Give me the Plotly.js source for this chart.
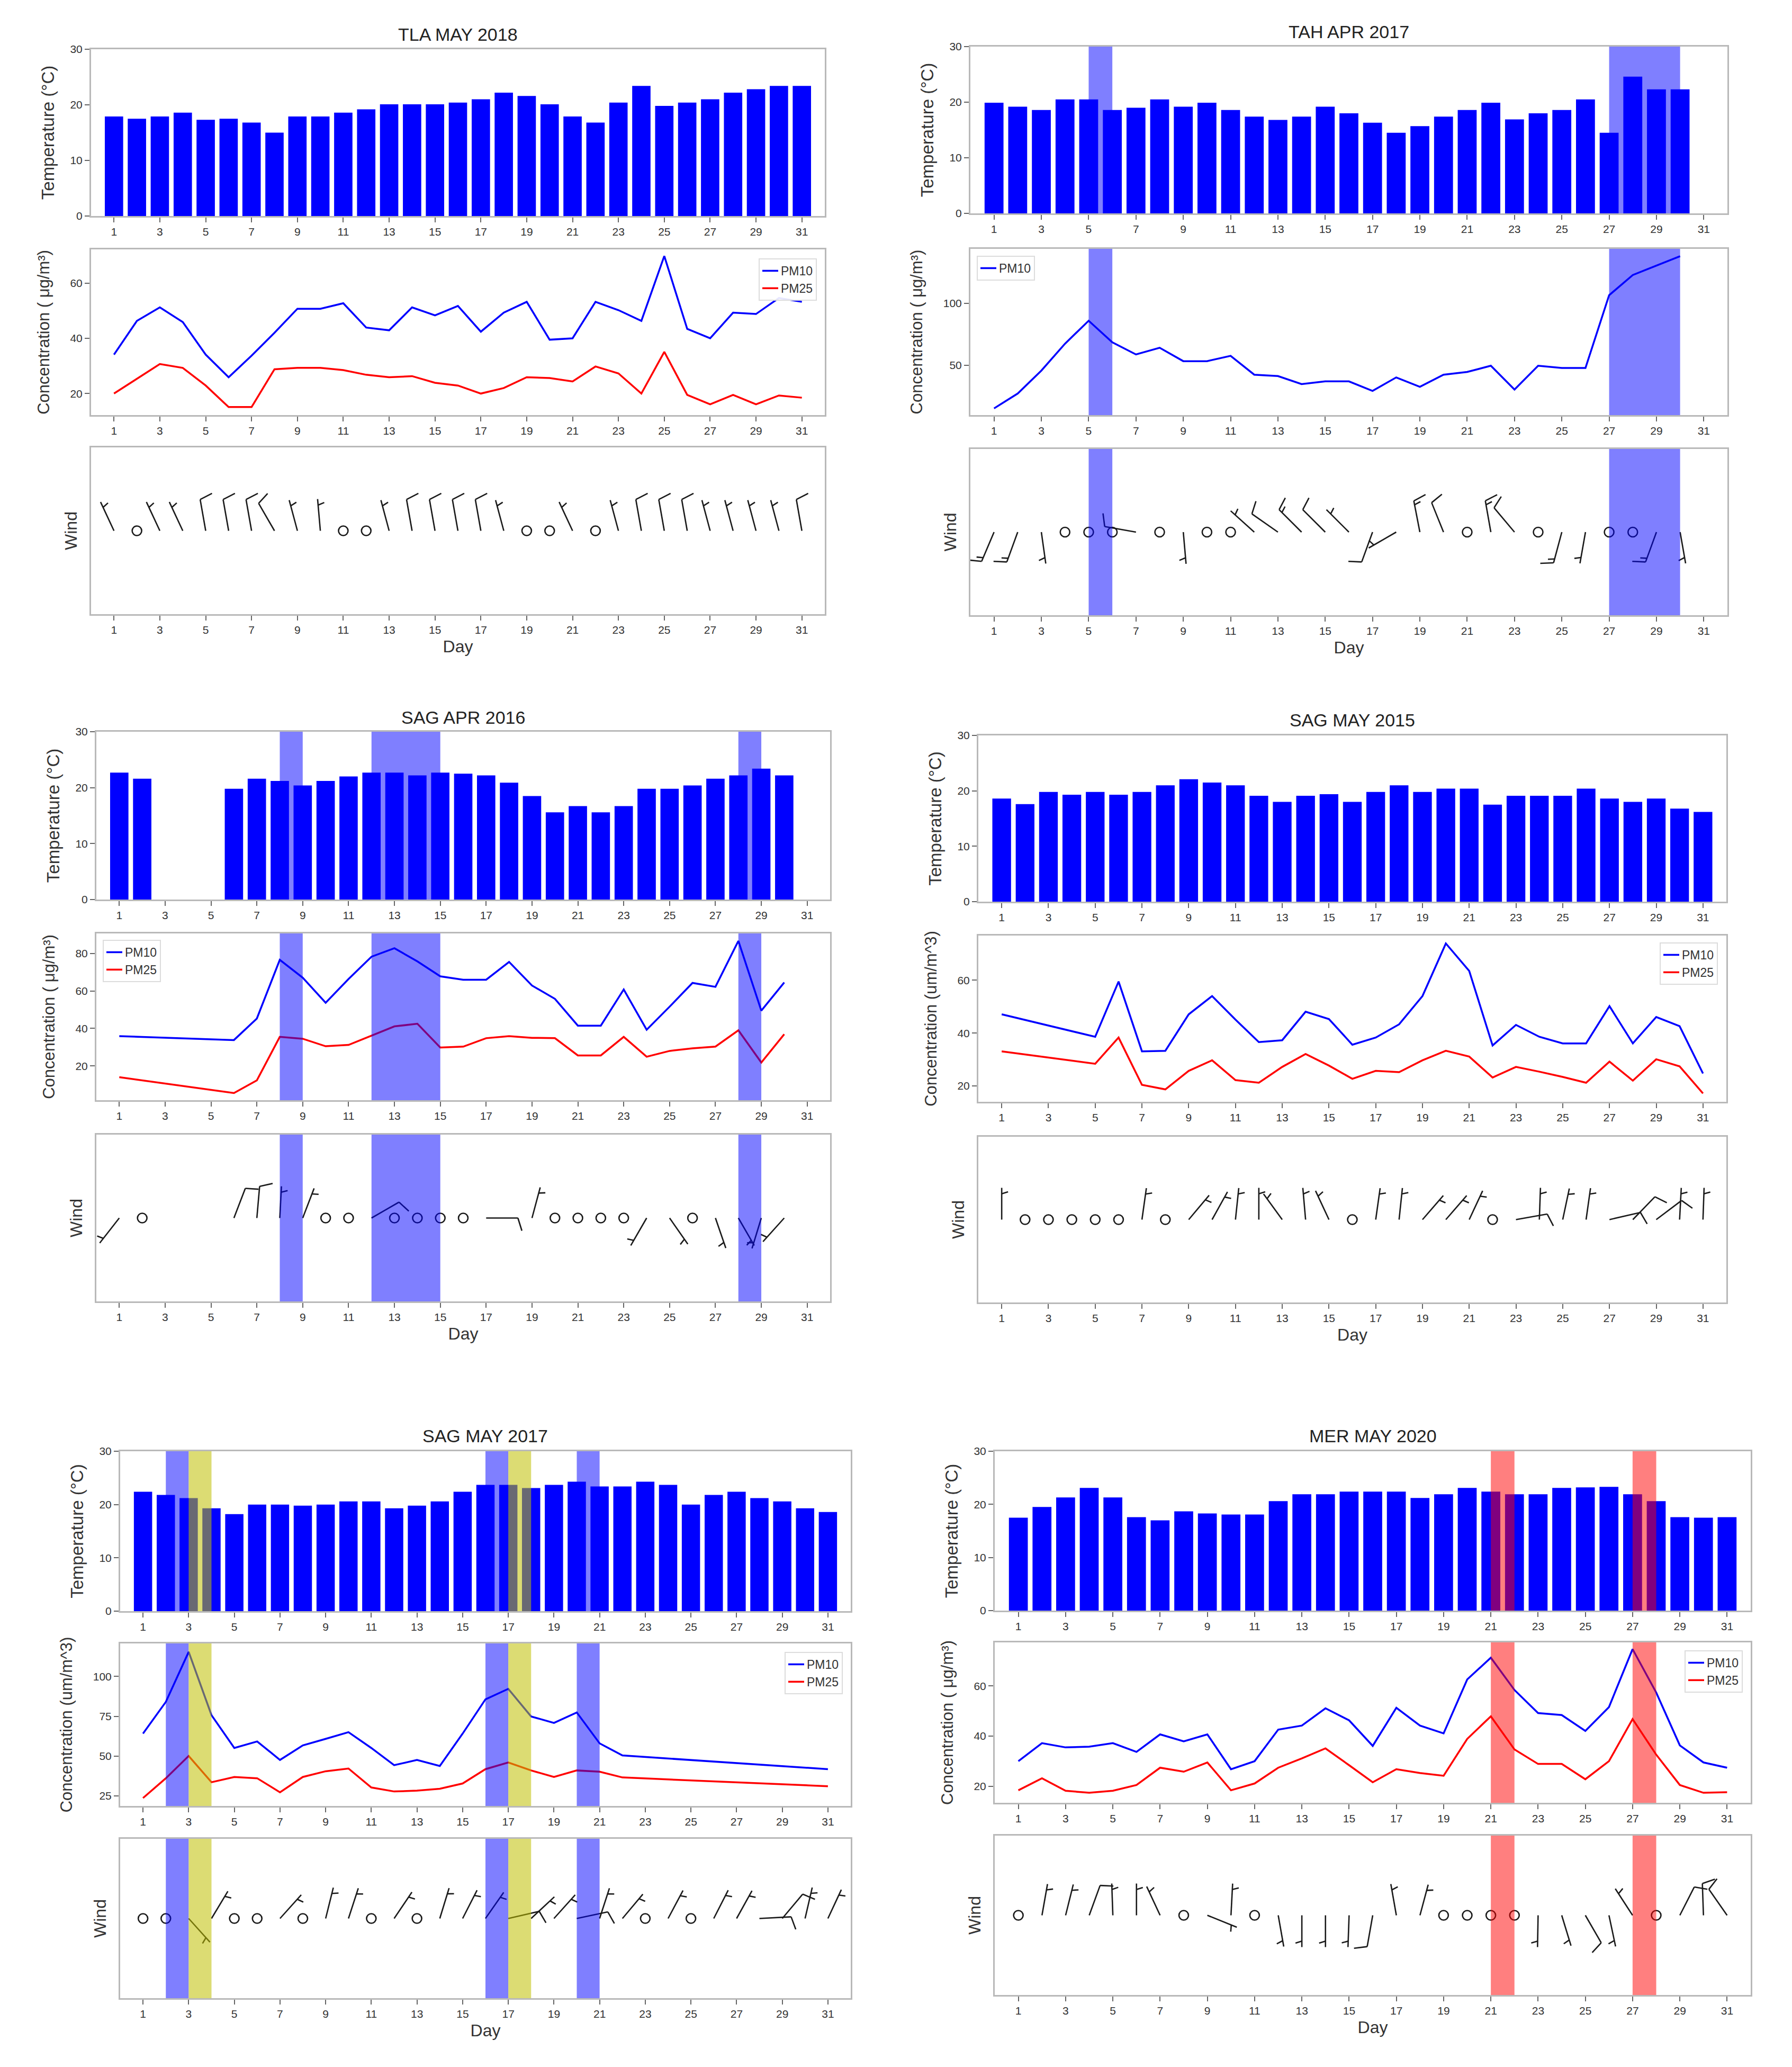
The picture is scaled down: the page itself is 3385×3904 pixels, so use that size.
<!DOCTYPE html>
<html><head><meta charset="utf-8">
<script src="https://cdn.plot.ly/plotly-3.0.1.min.js"></script>
<style>html,body{margin:0;padding:0;background:#fff}#chart{width:3385px;height:3904px}</style>
</head><body><div id="chart"></div>
<script>
// ---------------- DATA ----------------
const days31 = [1,2,3,4,5,6,7,8,9,10,11,12,13,14,15,16,17,18,19,20,21,22,23,24,25,26,27,28,29,30,31];
const days30 = [1,2,3,4,5,6,7,8,9,10,11,12,13,14,15,16,17,18,19,20,21,22,23,24,25,26,27,28,29,30];
const dayTicks = [1,3,5,7,9,11,13,15,17,19,21,23,25,27,29,31];
const tempTicks = [0,10,20,30];

// TLA MAY 2018
const tla2018_temp = [17.9,17.5,17.9,18.6,17.3,17.5,16.8,15.0,17.9,17.9,18.6,19.2,20.1,20.1,20.1,20.4,21.0,22.2,21.6,20.1,17.9,16.8,20.4,23.4,19.8,20.4,21.0,22.2,22.8,23.4,23.4];
const tla2018_pm10 = [34.1,46.3,51.2,45.9,34.1,25.9,33.7,42.0,50.7,50.7,52.7,43.9,42.9,51.2,48.3,51.7,42.4,49.3,53.2,39.5,40.0,53.2,50.2,46.3,69.8,43.4,40.0,49.3,48.8,54.6,53.2];
const tla2018_pm25 = [20.0,25.4,30.7,29.3,22.9,15.1,15.1,28.8,29.3,29.3,28.5,26.8,25.9,26.3,23.9,22.9,20.0,22.0,25.9,25.6,24.4,29.8,27.3,20.0,35.1,19.5,16.1,19.5,16.1,19.3,18.5];
const tla2018_wdir = [335,0,335,335,350,350,350,330,345,355,0,0,345,350,350,350,350,345,0,0,335,0,345,350,350,350,345,345,345,345,350];
const tla2018_wspd = [5,0,5,5,10,10,10,10,5,5,0,0,5,10,10,10,10,5,0,0,5,0,5,10,10,10,5,5,5,5,10];
const tla2018_concTicks = [20,40,60];

// TAH APR 2017
const tah2017_temp = [19.9,19.2,18.6,20.5,20.5,18.6,19.0,20.5,19.2,19.9,18.6,17.4,16.8,17.4,19.2,18.0,16.3,14.5,15.7,17.4,18.6,19.9,16.9,18.0,18.6,20.5,14.5,24.6,22.3,22.3];
const tah2017_pm10 = [15.2,27.2,45.7,67.4,85.9,68.5,58.7,64.1,53.3,53.3,57.6,42.4,41.3,34.8,37.0,37.0,29.3,40.2,32.6,42.4,44.6,49.6,30.4,49.6,47.8,47.8,106.5,122.8,130.4,138.0];
const tah2017_wdir = [203,200,172,0,0,0,280,0,175,0,0,312,305,315,315,315,200,240,349,338,0,350,320,0,195,190,0,0,200,170];
const tah2017_wspd = [15,15,5,0,0,0,10,0,5,0,0,5,10,15,10,5,10,5,15,10,0,15,10,0,15,5,0,0,15,5];
const tah2017_bandStart = [5,27];
const tah2017_bandEnd = [6,30];
const tah2017_bandColor = ['b','b'];
const tah2017_concTicks = [50,100];

// SAG APR 2016
const sag2016_temp = [22.7,21.6,null,null,null,19.8,21.6,21.2,20.4,21.2,22.0,22.7,22.7,22.2,22.7,22.5,22.2,20.9,18.5,15.6,16.7,15.6,16.7,19.8,19.8,20.4,21.6,22.2,23.4,22.2];
const sag2016_pm10 = [35.9,null,null,null,null,33.8,45.3,76.6,67.1,53.7,66.4,78.3,82.8,75.8,67.8,66.0,66.0,75.5,62.9,55.8,41.5,41.5,60.8,39.3,51.6,64.3,62.2,86.7,49.5,64.5];
const sag2016_pm25 = [14.0,null,null,null,null,5.5,12.3,35.5,34.5,30.5,31.2,36.2,41.1,42.5,29.8,30.3,34.8,35.9,35.0,34.8,25.6,25.6,35.5,24.9,28.0,29.4,30.3,39.0,21.8,36.9];
const sag2016_wdir = [218,0,null,null,null,21,5,3,21,0,0,60,0,0,0,0,90,null,15,0,0,0,0,210,145,0,161,150,197,222];
const sag2016_wspd = [5,0,null,null,null,10,10,5,5,0,0,10,0,0,0,0,10,null,5,0,0,0,0,5,5,0,5,5,5,5];
const sag2016_bandStart = [8,12,28];
const sag2016_bandEnd = [9,15,29];
const sag2016_bandColor = ['b','b','b'];
const sag2016_concTicks = [20,40,60,80];

// SAG MAY 2015
const sag2015_temp = [18.6,17.6,19.8,19.3,19.8,19.3,19.8,21.0,22.1,21.5,21.0,19.1,18.0,19.1,19.4,18.0,19.8,21.0,19.8,20.4,20.4,17.5,19.1,19.1,19.1,20.4,18.6,18.0,18.6,16.8,16.2];
const sag2015_pm10 = [47.1,null,null,null,38.6,59.5,33.1,33.3,47.1,54.0,45.1,36.6,37.3,48.1,45.3,35.6,38.3,43.3,54.0,73.9,63.5,35.3,43.1,38.6,36.1,36.1,50.2,36.1,46.1,42.6,24.7];
const sag2015_pm25 = [33.1,null,null,null,28.4,38.3,20.4,18.7,25.7,29.7,22.2,21.2,27.2,32.1,27.7,22.7,25.7,25.2,29.7,33.3,31.1,23.2,27.2,25.4,23.4,21.2,29.2,22.0,30.1,27.4,17.2];
const sag2015_wdir = [0,0,0,0,0,0,8,0,40,29,6,0,324,355,335,0,8,6,41,41,25,0,80,2,12,8,77,44,53,3,2];
const sag2015_wspd = [5,0,0,0,0,0,5,0,5,5,5,5,5,5,5,0,5,5,5,5,5,0,10,5,5,5,10,10,10,5,5];
const sag2015_concTicks = [20,40,60];

// SAG MAY 2017
const sag2017_temp = [22.4,21.8,21.2,19.3,18.2,20.0,20.0,19.8,20.0,20.6,20.6,19.3,19.8,20.6,22.4,23.7,23.7,23.1,23.7,24.3,23.4,23.4,24.3,23.7,20.0,21.8,22.4,21.2,20.6,19.3,18.6];
const sag2017_pm10 = [64.1,84.0,115.4,75.7,55.1,59.2,47.6,56.7,60.8,65.0,55.1,44.3,47.6,43.8,64.1,85.6,92.2,74.9,70.8,77.4,58.0,50.4,null,null,null,null,null,null,null,null,41.8];
const sag2017_pm25 = [23.7,36.1,50.1,33.6,36.9,36.1,27.3,36.9,40.5,42.2,30.3,27.8,28.3,29.5,32.8,41.8,46.0,41.0,36.9,41.0,40.2,36.6,null,null,null,null,null,null,null,null,31.1];
const sag2017_wdir = [0,0,138,31,0,0,42,0,14,18,0,34,0,17,27,35,77,47,42,78,18,40,0,28,0,27,29,87,40,13,25];
const sag2017_wspd = [0,0,5,5,0,0,5,0,5,5,0,5,0,5,5,5,10,5,5,10,5,5,0,5,0,5,5,10,10,5,5];
const sag2017_bandStart = [2,3,16,17,20];
const sag2017_bandEnd = [3,4,17,18,21];
const sag2017_bandColor = ['b','y','b','y','b'];
const sag2017_concTicks = [25,50,75,100];

// MER MAY 2020
const mer2020_temp = [17.5,19.5,21.3,23.1,21.3,17.6,17.0,18.7,18.3,18.1,18.1,20.6,21.9,21.9,22.4,22.4,22.4,21.2,21.9,23.1,22.4,21.9,21.9,23.1,23.2,23.3,21.9,20.6,17.6,17.5,17.6];
const mer2020_pm10 = [30.0,37.2,35.5,35.8,37.2,33.7,40.7,37.9,40.7,26.8,30.0,42.6,44.2,51.1,46.3,36.1,51.3,44.2,41.1,62.6,71.3,58.4,49.2,48.4,42.1,51.6,74.7,57.4,36.3,29.5,27.4];
const mer2020_pm25 = [18.4,23.2,18.2,17.4,18.2,20.5,27.4,25.8,29.5,18.4,21.1,27.4,31.1,35.1,28.4,21.6,26.8,25.3,24.2,38.9,47.9,34.7,28.9,28.9,22.8,30.0,46.8,32.6,20.5,17.4,17.6];
const mer2020_wdir = [0,10,14,20,358,0,335,0,112,3,0,170,180,180,182,190,350,15,0,0,0,0,181,163,150,168,327,0,27,358,325];
const mer2020_wspd = [0,5,5,10,5,5,5,0,5,5,0,5,5,5,5,10,5,5,0,0,0,0,5,5,10,5,5,0,10,10,10];
const mer2020_bandStart = [21,27];
const mer2020_bandEnd = [22,28];
const mer2020_bandColor = ['r','r'];
const mer2020_concTicks = [20,40,60];

// ---------------- LAYOUT / STYLE ----------------
const W = 3385, H = 3904;
const FONT = 'Liberation Sans, Arial, sans-serif';
const BAND_COLORS = {b:'rgba(0,0,255,0.5)', y:'rgba(191,191,0,0.55)', r:'rgba(255,0,0,0.5)'};
const UG = 'Concentration ( μg/m³)';
const UM = 'Concentration (um/m^3)';

const panels = [
  {title:'TLA MAY 2018', days:days31, temp:tla2018_temp, pm10:tla2018_pm10, pm25:tla2018_pm25, wdir:tla2018_wdir, wspd:tla2018_wspd,
   bS:[], bE:[], bC:[], cTicks:tla2018_concTicks, cRange:[12.2,72.2], cLabel:UG,
   x:[172,1558], ys:[[93,408],[471,784],[845,1160]], titleY:65, leg:{x:1543,y:488,side:'right'}},
  {title:'TAH APR 2017', days:days30, temp:tah2017_temp, pm10:tah2017_pm10, pm25:null, wdir:tah2017_wdir, wspd:tah2017_wspd,
   bS:tah2017_bandStart, bE:tah2017_bandEnd, bC:tah2017_bandColor, cTicks:tah2017_concTicks, cRange:[9.8,143.9], cLabel:UG,
   x:[1833,3263], ys:[[88,403],[470,784],[848,1162]], titleY:60, leg:{x:1845,y:483,side:'left'}},
  {title:'SAG APR 2016', days:days30, temp:sag2016_temp, pm10:sag2016_pm10, pm25:sag2016_pm25, wdir:sag2016_wdir, wspd:sag2016_wspd,
   bS:sag2016_bandStart, bE:sag2016_bandEnd, bC:sag2016_bandColor, cTicks:sag2016_concTicks, cRange:[1.7,90.7], cLabel:UG,
   x:[182,1568], ys:[[1382,1699],[1763,2078],[2143,2458]], titleY:1355, leg:{x:194,y:1775,side:'left'}},
  {title:'SAG MAY 2015', days:days31, temp:sag2015_temp, pm10:sag2015_pm10, pm25:sag2015_pm25, wdir:sag2015_wdir, wspd:sag2015_wspd,
   bS:[], bE:[], bC:[], cTicks:sag2015_concTicks, cRange:[14,76.9], cLabel:UM,
   x:[1848,3261], ys:[[1389,1703],[1767,2081],[2147,2460]], titleY:1360, leg:{x:3245,y:1780,side:'right'}},
  {title:'SAG MAY 2017', days:days31, temp:sag2017_temp, pm10:sag2017_pm10, pm25:sag2017_pm25, wdir:sag2017_wdir, wspd:sag2017_wspd,
   bS:sag2017_bandStart, bE:sag2017_bandEnd, bC:sag2017_bandColor, cTicks:sag2017_concTicks, cRange:[18.7,120.7], cLabel:UM,
   x:[227,1607], ys:[[2741,3043],[3104,3411],[3473,3774]], titleY:2712, leg:{x:1592,y:3120,side:'right'}},
  {title:'MER MAY 2020', days:days31, temp:mer2020_temp, pm10:mer2020_pm10, pm25:mer2020_pm25, wdir:mer2020_wdir, wspd:mer2020_wspd,
   bS:mer2020_bandStart, bE:mer2020_bandEnd, bC:mer2020_bandColor, cTicks:mer2020_concTicks, cRange:[13.4,77.4], cLabel:UG,
   x:[1879,3307], ys:[[2741,3042],[3102,3405],[3467,3768]], titleY:2712, leg:{x:3292,y:3117,side:'right'}}
];

const XR = [0, 32];
function windBarbs(days, dir, spd, pxX, pxY) {
  const L = 60, sp = 0.125*L, fh = 0.4*L, fw = 0.25*L;
  const lx = [], ly = [], cx = [], cy = [];
  days.forEach((d, i) => {
    if (dir[i] == null || spd[i] == null) return;
    const s = Math.round(spd[i]/5)*5;
    if (s < 5) { cx.push(d); cy.push(0); return; }
    const t = dir[i]*Math.PI/180;
    const ux = Math.sin(t), uy = Math.cos(t), rx = Math.cos(t), ry = -Math.sin(t);
    const P = (along, side) => [d + (ux*along + rx*side)/pxX, (uy*along + ry*side)/pxY];
    const seg = (p, q) => { lx.push(p[0], q[0], null); ly.push(p[1], q[1], null); };
    seg(P(0,0), P(L,0));
    const nfull = Math.floor(s/10), half = (s % 10) >= 5;
    let off = L;
    for (let k = 0; k < nfull; k++) { seg(P(off,0), P(off + fw/2, fh)); off -= sp; }
    if (half) { if (off === L) off -= 1.5*sp; seg(P(off,0), P(off + fw/4, fh/2)); }
  });
  return {lx, ly, cx, cy};
}

const data = [], shapes = [], annotations = [];
const layout = {
  width: W, height: H, margin:{l:0,r:0,t:0,b:0},
  paper_bgcolor:'#fff', plot_bgcolor:'#fff',
  font:{family:FONT, color:'#333', size:21},
  showlegend:true
};
const axCommon = {showline:true, mirror:true, linecolor:'#b9b9b9', linewidth:3, showgrid:false, zeroline:false,
  ticks:'outside', ticklen:9, tickwidth:2, tickcolor:'#666', tickfont:{size:21,color:'#333'}};

panels.forEach((p, i) => {
  const legName = i === 0 ? 'legend' : 'legend' + (i+1);
  const xd = [p.x[0]/W, p.x[1]/W];
  const ks = [i*3+1, i*3+2, i*3+3];
  const xr = k => k === 1 ? 'x' : 'x'+k, yr = k => k === 1 ? 'y' : 'y'+k;
  const xn = k => k === 1 ? 'xaxis' : 'xaxis'+k, yn = k => k === 1 ? 'yaxis' : 'yaxis'+k;
  ks.forEach((k, r) => {
    layout[xn(k)] = Object.assign({}, axCommon, {domain:xd, range:XR, tickvals:dayTicks, anchor:yr(k)});
    const yd = [1 - p.ys[r][1]/H, 1 - p.ys[r][0]/H];
    layout[yn(k)] = Object.assign({}, axCommon, {domain:yd, anchor:xr(k)});
  });
  // temperature
  layout[yn(ks[0])].range = [0, 30];
  layout[yn(ks[0])].tickvals = tempTicks;
  layout[yn(ks[0])].title = {text:'Temperature (°C)', font:{size:33,color:'#333'}, standoff:20};
  data.push({type:'bar', x:p.days, y:p.temp, width:0.8, marker:{color:'#0000ff', line:{width:0}},
    xaxis:xr(ks[0]), yaxis:yr(ks[0]), showlegend:false});
  // concentration
  layout[yn(ks[1])].range = p.cRange;
  layout[yn(ks[1])].tickvals = p.cTicks;
  layout[yn(ks[1])].title = {text:p.cLabel, font:{size:31,color:'#333'}, standoff:30};
  data.push({type:'scatter', mode:'lines', x:p.days, y:p.pm10, connectgaps:true, name:'PM10',
    line:{color:'#0000ff', width:3.5}, xaxis:xr(ks[1]), yaxis:yr(ks[1]), legend:legName});
  if (p.pm25) data.push({type:'scatter', mode:'lines', x:p.days, y:p.pm25, connectgaps:true, name:'PM25',
    line:{color:'#ff0000', width:3.5}, xaxis:xr(ks[1]), yaxis:yr(ks[1]), legend:legName});
  layout[legName] = {x:p.leg.x/W, y:1 - p.leg.y/H, xanchor:p.leg.side, yanchor:'top', xref:'paper', yref:'paper',
    bgcolor:'rgba(255,255,255,0.9)', bordercolor:'#dcdcdc', borderwidth:2, font:{size:23,color:'#333'}, tracegroupgap:6};
  // wind
  layout[yn(ks[2])].range = [-1, 1];
  layout[yn(ks[2])].showticklabels = false;
  layout[yn(ks[2])].ticks = '';
  layout[yn(ks[2])].title = {text:'Wind', font:{size:32,color:'#333'}, standoff:14};
  layout[xn(ks[2])].title = {text:'Day', font:{size:32,color:'#333'}, standoff:10};
  const pxX = (p.x[1]-p.x[0])/(XR[1]-XR[0]), pxY = (p.ys[2][1]-p.ys[2][0])/2;
  const wb = windBarbs(p.days, p.wdir, p.wspd, pxX, pxY);
  data.push({type:'scatter', mode:'lines', x:wb.lx, y:wb.ly, connectgaps:false, line:{color:'#1a1a1a', width:2.6},
    xaxis:xr(ks[2]), yaxis:yr(ks[2]), showlegend:false, hoverinfo:'skip'});
  data.push({type:'scatter', mode:'markers', x:wb.cx, y:wb.cy, marker:{symbol:'circle-open', size:18, color:'#1a1a1a', line:{width:2.6}},
    xaxis:xr(ks[2]), yaxis:yr(ks[2]), showlegend:false, hoverinfo:'skip'});
  // bands
  p.bS.forEach((s, j) => {
    ks.forEach(k => shapes.push({type:'rect', xref:xr(k), yref:yr(k)+' domain', x0:s, x1:p.bE[j], y0:0, y1:1,
      fillcolor:BAND_COLORS[p.bC[j]], line:{width:0}, layer:'above'}));
  });
  // title
  annotations.push({text:p.title, xref:'paper', yref:'paper', x:(p.x[0]+p.x[1])/2/W, y:1 - p.titleY/H,
    xanchor:'center', yanchor:'middle', showarrow:false, font:{size:34, color:'#222'}});
});
layout.shapes = shapes;
layout.annotations = annotations;
Plotly.newPlot('chart', data, layout, {staticPlot:true});
</script></body></html>
